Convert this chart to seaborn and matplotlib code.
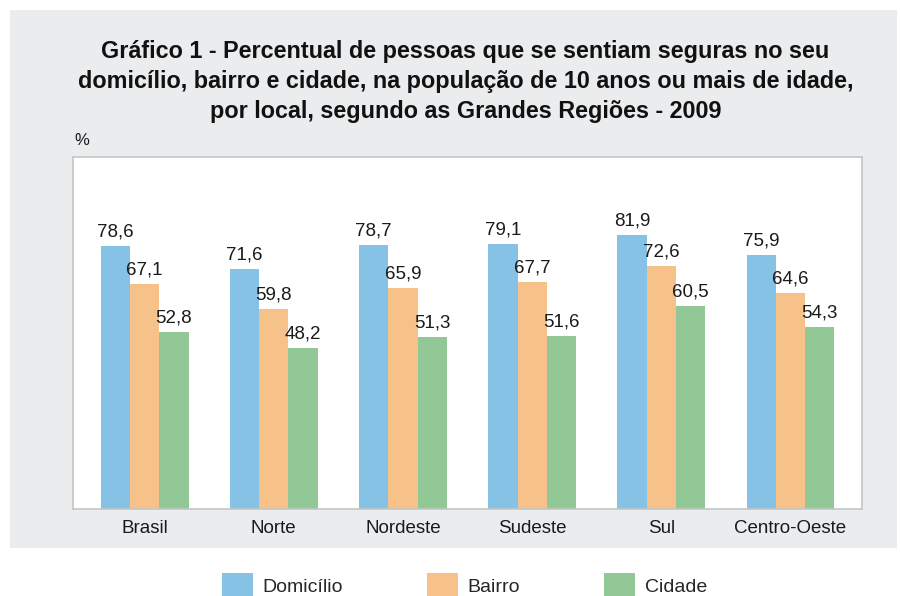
import pandas as pd
import matplotlib
matplotlib.use("Agg")
import matplotlib.pyplot as plt
import seaborn as sns
from matplotlib.patches import Rectangle, Patch

regioes = ['Brasil', 'Norte', 'Nordeste', 'Sudeste', 'Sul', 'Centro-Oeste']
locais = ['Domicílio', 'Bairro', 'Cidade']
domicilio = [78.6, 71.6, 78.7, 79.1, 81.9, 75.9]
bairro = [67.1, 59.8, 65.9, 67.7, 72.6, 64.6]
cidade = [52.8, 48.2, 51.3, 51.6, 60.5, 54.3]
cores = ['#85c2e6', '#f7c289', '#91c896']

titulo = ('Gráfico 1 - Percentual de pessoas que se sentiam seguras no seu\n'
          'domicílio, bairro e cidade, na população de 10 anos ou mais de idade,\n'
          'por local, segundo as Grandes Regiões - 2009')


def grafico():
    df = pd.DataFrame({
        'Regiao': regioes * 3,
        'Local': [locais[0]] * 6 + [locais[1]] * 6 + [locais[2]] * 6,
        'Valor': domicilio + bairro + cidade,
    })

    sns.set_theme(style="white")
    plt.rcParams['font.family'] = ['Liberation Sans', 'DejaVu Sans']

    fig = plt.figure(figsize=(9, 5.96), dpi=100)
    fig.patch.set_facecolor('white')
    # painel cinza atras do grafico
    fig.patches.append(Rectangle((0.011, 0.0805), 0.986, 0.9025,
                                 transform=fig.transFigure, facecolor='#ebeced',
                                 edgecolor='none', zorder=-10))

    ax = fig.add_axes([0.081, 0.146, 0.877, 0.591])
    ax.set_zorder(1)
    sns.barplot(data=df, x='Regiao', y='Valor', hue='Local', palette=cores,
                width=0.68, saturation=1, ax=ax, legend=False,
                edgecolor='none', linewidth=0)

    ax.set_xlim(-0.555, 5.555)
    ax.set_ylim(0, 105.2)
    ax.set_yticks([])
    ax.set_xlabel('')
    ax.set_ylabel('')
    ax.set_facecolor('white')
    for sp in ax.spines.values():
        sp.set_color('#c4c6c6')
        sp.set_linewidth(1.2)
    ax.tick_params(axis='x', length=0, labelsize=13.5, pad=8, labelcolor='#1a1a1a')
    ax.set_xticks([3.5], minor=True)
    ax.tick_params(axis='x', which='minor', length=5, color='#9a9a9a', width=1)

    for cont in ax.containers:
        rotulos = [f'{b.get_height():.1f}'.replace('.', ',') for b in cont]
        ax.bar_label(cont, labels=rotulos, padding=4, fontsize=13.5, color='#1a1a1a')

    fig.text(0.517, 0.863, titulo, ha='center', va='center', fontsize=16.8,
             fontweight='bold', linespacing=1.37, color='#111111')
    fig.text(0.083, 0.765, '%', ha='left', va='center', fontsize=12, color='#1a1a1a')

    handles = [Patch(facecolor=c, edgecolor='none', label=l) for c, l in zip(cores, locais)]
    fig.legend(handles=handles, loc='center', bbox_to_anchor=(0.516, 0.018), ncol=3,
               frameon=False, fontsize=14, handlelength=1.6, handleheight=1.6,
               handletextpad=0.5, columnspacing=4.3)

    fig.savefig('out.png', dpi=100)


if __name__ == "__main__":
    grafico()
